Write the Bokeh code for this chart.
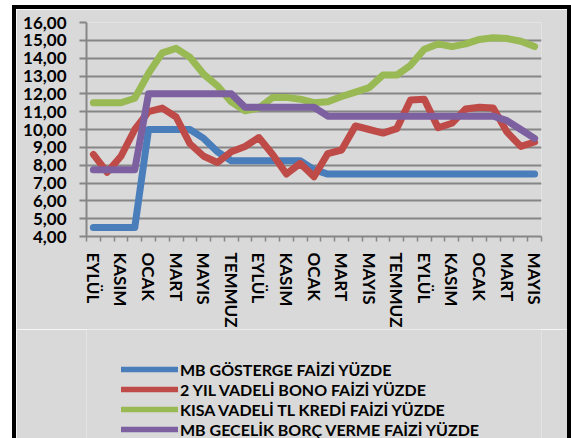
from bokeh.plotting import figure
from bokeh.layouts import column
from bokeh.models import FixedTicker, Legend, LegendItem, Range1d
from bokeh.embed import file_html
from bokeh.resources import INLINE

months = ["EYLÜL", "EKİM", "KASIM", "ARALIK", "OCAK", "ŞUBAT", "MART", "NİSAN",
          "MAYIS", "HAZİRAN", "TEMMUZ", "AĞUSTOS",
          "EYLÜL", "EKİM", "KASIM", "ARALIK", "OCAK", "ŞUBAT", "MART", "NİSAN",
          "MAYIS", "HAZİRAN", "TEMMUZ", "AĞUSTOS",
          "EYLÜL", "EKİM", "KASIM", "ARALIK", "OCAK", "ŞUBAT", "MART", "NİSAN",
          "MAYIS"]

mb_gosterge = [4.5, 4.5, 4.5, 4.5, 10.0, 10.0, 10.0, 10.0, 9.5, 8.75, 8.25,
               8.25, 8.25, 8.25, 8.25, 8.25, 7.75, 7.5, 7.5, 7.5, 7.5, 7.5,
               7.5, 7.5, 7.5, 7.5, 7.5, 7.5, 7.5, 7.5, 7.5, 7.5, 7.5]
bono_2yil = [8.6, 7.6, 8.5, 10.0, 11.0, 11.2, 10.7, 9.2, 8.5, 8.15, 8.75,
             9.05, 9.55, 8.6, 7.5, 8.1, 7.35, 8.65, 8.85, 10.2, 10.0, 9.8,
             10.05, 11.65, 11.7, 10.1, 10.35, 11.15, 11.25, 11.2, 9.85, 9.05, 9.3]
kisa_kredi = [11.5, 11.5, 11.5, 11.75, 13.15, 14.3, 14.55, 14.05, 13.1, 12.45,
              11.55, 11.05, 11.2, 11.8, 11.8, 11.7, 11.5, 11.55, 11.85, 12.1,
              12.35, 13.05, 13.05, 13.6, 14.5, 14.8, 14.65, 14.8, 15.05, 15.15,
              15.1, 14.95, 14.65]
gecelik = [7.75, 7.75, 7.75, 7.75, 12.0, 12.0, 12.0, 12.0, 12.0, 12.0, 12.0,
           11.25, 11.25, 11.25, 11.25, 11.25, 11.25, 10.75, 10.75, 10.75, 10.75,
           10.75, 10.75, 10.75, 10.75, 10.75, 10.75, 10.75, 10.75, 10.75, 10.5,
           10.0, 9.5]

series_names = ["MB GÖSTERGE FAİZİ YÜZDE", "2 YIL VADELİ BONO FAİZİ YÜZDE",
                "KISA VADELİ TL KREDİ FAİZİ YÜZDE", "MB GECELİK BORÇ VERME FAİZİ YÜZDE"]
series_values = [mb_gosterge, bono_2yil, kisa_kredi, gecelik]
series_colors = ["#4A7EBB", "#BE4B48", "#98B954", "#7D60A0"]

y_ticks = [4, 5, 6, 7, 8, 9, 10, 11, 12, 13, 14, 15, 16]
y_tick_labels = ["4,00", "5,00", "6,00", "7,00", "8,00", "9,00", "10,00",
                 "11,00", "12,00", "13,00", "14,00", "15,00", "16,00"]

x = list(range(len(months)))
label_idx = x[::2]

FONT = "Lato"
GRID = "#868686"
BG = "#D9D9D9"
FRAME = "4px solid black"

# ---- chart figure ----
p = figure(width=551, height=320, output_backend="svg", toolbar_location=None,
           x_range=(-0.5, len(months) - 0.5), y_range=(4, 16),
           min_border_left=70, min_border_right=34, min_border_top=13,
           min_border_bottom=97)
p.styles = {"box-sizing": "content-box",
            "border-top": FRAME, "border-left": FRAME, "border-right": FRAME,
            "margin-left": "12px", "margin-top": "5px"}
p.background_fill_color = BG
p.border_fill_color = BG
p.outline_line_color = None

p.xgrid.visible = False
p.ygrid.grid_line_color = GRID
p.ygrid.grid_line_width = 2

p.yaxis.ticker = FixedTicker(ticks=y_ticks)
p.yaxis.major_label_overrides = {t: l for t, l in zip(y_ticks, y_tick_labels)}
p.yaxis.axis_line_color = GRID
p.yaxis.axis_line_width = 2
p.yaxis.major_tick_line_color = GRID
p.yaxis.major_tick_line_width = 2
p.yaxis.major_tick_out = 7
p.yaxis.major_tick_in = 0
p.yaxis.minor_tick_line_color = None
p.yaxis.major_label_standoff = 13
p.yaxis.major_label_text_font = FONT
p.yaxis.major_label_text_font_style = "bold"
p.yaxis.major_label_text_font_size = "17px"
p.yaxis.major_label_text_color = "black"

p.xaxis.ticker = FixedTicker(ticks=label_idx,
                             minor_ticks=[i - 0.5 for i in range(len(months) + 1)])
p.xaxis.major_label_overrides = {i: months[i] for i in label_idx}
p.xaxis.axis_line_color = GRID
p.xaxis.axis_line_width = 2
p.xaxis.major_tick_line_color = None
p.xaxis.minor_tick_line_color = GRID
p.xaxis.minor_tick_line_width = 1.5
p.xaxis.minor_tick_out = 5
p.xaxis.minor_tick_in = 0
p.xaxis.major_label_orientation = "vertical"
p.xaxis.major_label_standoff = 10
p.xaxis.major_label_text_font = FONT
p.xaxis.major_label_text_font_style = "bold"
p.xaxis.major_label_text_font_size = "17px"
p.xaxis.major_label_text_color = "black"

for vals, col in zip(series_values, series_colors):
    p.line(x, vals, line_color=col, line_width=7, line_cap="round",
           line_join="round")

# ---- legend figure ----
lf = figure(width=551, height=109, output_backend="svg", toolbar_location=None,
            x_range=Range1d(0, 1), y_range=Range1d(0, 1),
            x_axis_location=None, y_axis_location=None,
            min_border=0, min_border_left=0, min_border_right=0,
            min_border_top=0, min_border_bottom=0)
lf.styles = {"box-sizing": "content-box",
             "border-left": FRAME, "border-right": FRAME, "margin-left": "12px"}
lf.background_fill_color = BG
lf.border_fill_color = BG
lf.outline_line_color = None
lf.grid.visible = False

items = []
for name, vals, col in zip(series_names, series_values, series_colors):
    r = lf.line(x, vals, line_color=col, line_width=5.5, line_cap="round",
                visible=False)
    items.append(LegendItem(label=name, renderers=[r]))

legend = Legend(items=items, location=(35, -1))
legend.background_fill_alpha = 0
legend.border_line_color = None
legend.padding = 0
legend.margin = 0
legend.spacing = 0
legend.glyph_width = 57
legend.glyph_height = 20
legend.label_height = 20
legend.label_standoff = 2
legend.label_text_font = FONT
legend.label_text_font_style = "bold"
legend.label_text_font_size = "16px"
legend.label_text_color = "black"
lf.add_layout(legend)

layout = column(p, lf, spacing=0)
open("out.html", "w").write(file_html(layout, INLINE))
